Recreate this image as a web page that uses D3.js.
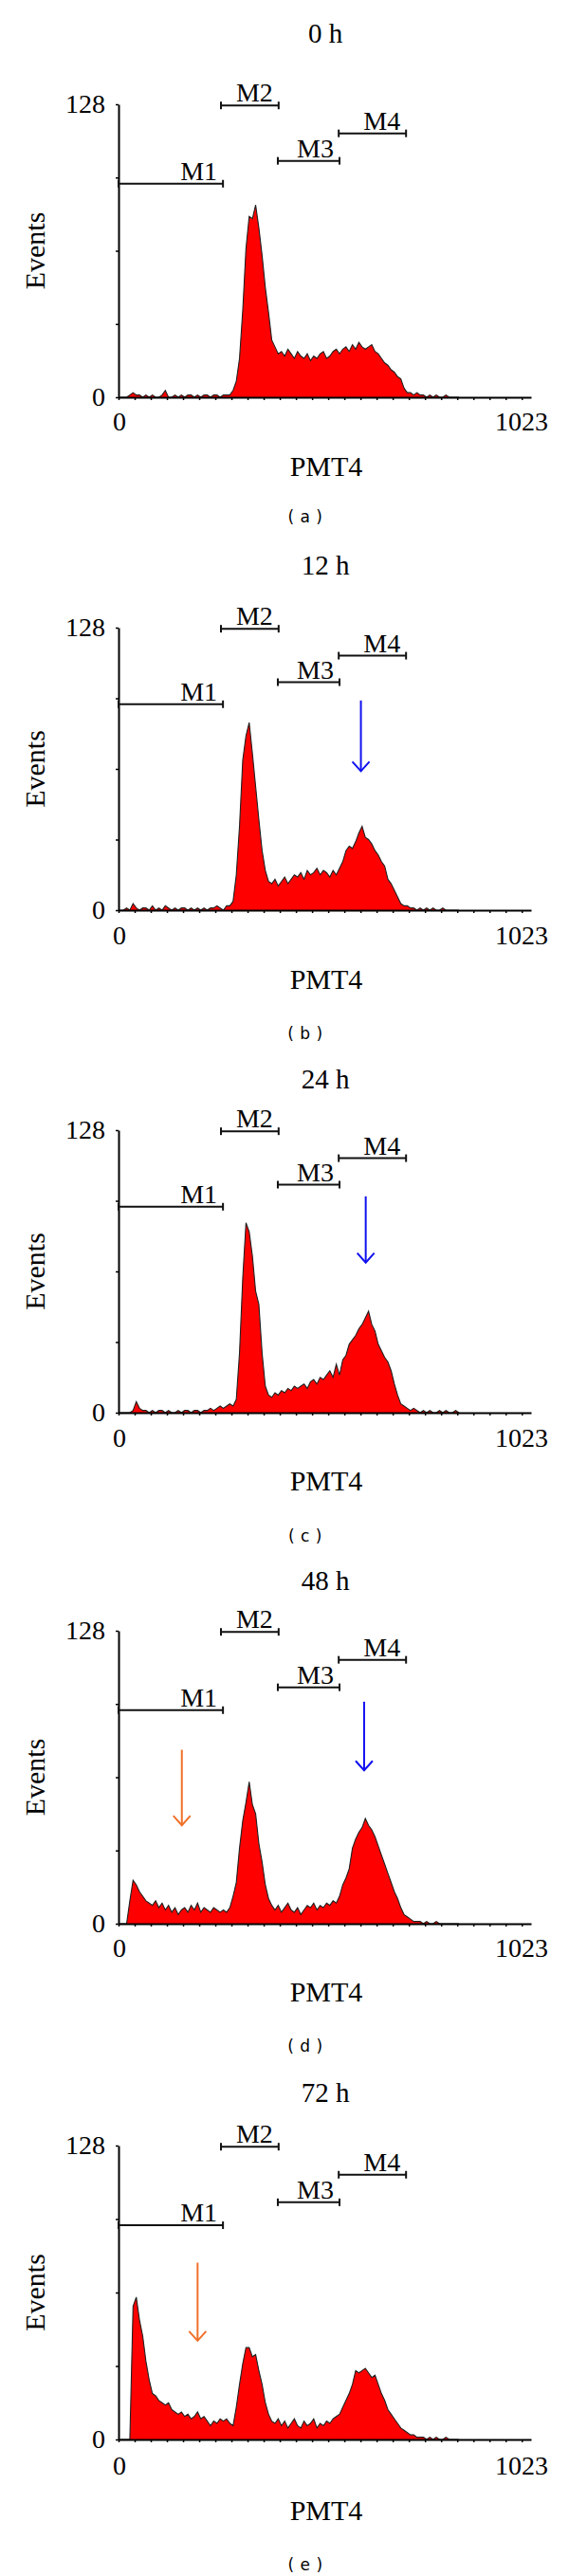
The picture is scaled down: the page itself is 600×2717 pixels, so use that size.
<!DOCTYPE html>
<html><head><meta charset="utf-8">
<script src="https://cdn.jsdelivr.net/npm/d3@7/dist/d3.min.js"></script>
<style>body{margin:0;background:#fff}svg{display:block}</style>
</head><body>
<svg id="chart" width="600" height="2717"></svg>
<script>
// ---------- data ----------
const panelTitles = ["0 h", "12 h", "24 h", "48 h", "72 h"];
const panelLetters = ["a", "b", "c", "d", "e"];
const binWidth = 8; // channels per histogram value
const events0h = [0,0,0,1, 2,1,1, 0,1,0,1,0,0,1, 3, 0, 0,1,0,1,0,1,1,0,1,0,1, 1,0,1,1,0,1,1,1,
  3,7,17,38,65,79,78,84,74,62,48,37,25,
  22,19,20,18,21,19,17,20,18,17,19,16,18,17,19,20,17,18,20,21,
  19,21,22,20,23,21,24,22,21,22,23,20,19,17,15,
  14,12,11,9,8,4,2,2,1,2,1,1,
  0,1,0,1,0,0,1,0,0,0,0];
const events12h = [0,0,1,0, 3, 1,0,1,1,0, 2, 0,1,0,2,1, 0,1,0,1,1,0,1,0,1,0, 1,0,1,1,2,1,0,2,2,
  4,16,38,68,79,85,71,56,41,27,18,13,
  12,14,11,13,15,12,14,
  16,15,17,14,18,16,17,19,16,18,17,15,18,16,19,
  22,27,29,28,31,35,38,33,32,30,27,25,22,20,
  14,12,9,6,3,2,
  2,1,1,0,1,0,1,0,1,0,0,1,0,0,0,0,0];
const events24h = [0,0,0,0,1, 5, 2,1,1,0,1,0,1,1,0,1, 0,0,1,0,1,1,0,1,1,0, 1,1,2,1,2,3,2,3,4,3,
  6,27,61,86,82,71,55,49,27,12,8,
  7,9,8,10,9,11,10,12,11,
  12,13,11,14,15,13,16,15,17,19,16,22,17,
  24,26,31,33,35,38,40,43,46,40,37,31,28,25,23,19,13,8,4,
  3,2,1,2,1,0,1,0,1,0,0,1,0,1,0,0,1,0];
const events48h = [0,0,0, 10, 19,17,14,12,10,
  9,8,10,7,9,6,8,5,7,4,6,7,5,8,6,9,5,7,6,5,7,6,5,6,5,7,
  12,18,33,45,53,62,52,48,35,27,17,11,8,
  6,8,5,7,9,6,5,7,4,6,8,7,9,6,8,7,9,8,10,9,
  12,17,20,24,33,37,40,42,46,43,41,38,34,30,26,22,18,14,11,7,4,3,2,1,
  1,1,0,1,0,0,1,0,0,0,0,0,0,0];
const events72h = [0,0,0,0, 58,62,52,45,34,26,20,
  19,17,16,15,16,13,12,11,12,10,11,9,10,12,9,10,8,6,8,7,9,8,9,7,6,
  14,24,33,40,40,36,37,30,24,16,11,8,
  7,9,6,8,5,7,9,6,5,8,6,7,9,5,7,6,8,7,9,10,
  11,14,17,20,24,30,29,30,31,29,27,28,24,20,17,13,11,9,7,5,4,3,2,2,1,1,1,
  0,1,0,1,0,0,1,0,0,0,0];
const panelSeries = [events0h, events12h, events24h, events48h, events72h];

const markerNames = ["M1", "M2", "M3", "M4"];
const markerStart = [0, 254, 395, 546];
const markerEnd = [259, 397, 548, 713];
const markerLevel = [93.3, 127.5, 103.3, 115.3];

const arrowPanel = [1, 2, 3, 3, 4];
const arrowChannel = [601, 613, 609, 157, 196];
const arrowFrom = [95, 98, 97, 76, 77];
const arrowTo = [63, 68, 67, 43, 43];
const arrowKind = ["G2M", "G2M", "G2M", "subG1", "subG1"];

const xTickValues = [0,40,80,120,160,200,240,280,320,360,400,440,480,520,560,600,640,680,720,760,800,840,880,920,960,1000];
const yTickValues = [0, 32, 64, 96, 128];
const xLabelValues = [0, 1023];
const xLabelTexts = ["0", "1023"];
const yLabelValues = [0, 128];
const yLabelTexts = ["0", "128"];
const xAxisTitle = "PMT4";
const yAxisTitle = "Events";

// ---------- layout ----------
const layout = [
  {top:110,  bottom:419,  title:45,   tick:454,  axis:502,  sub:551},
  {top:662,  bottom:960,  title:606,  tick:996,  axis:1043, sub:1096},
  {top:1192, bottom:1490, title:1148, tick:1526, axis:1572, sub:1626},
  {top:1720, bottom:2029, title:1677, tick:2064, axis:2111, sub:2164},
  {top:2263, bottom:2573, title:2217, tick:2610, axis:2658, sub:2711}
];
const serif = "'Liberation Serif','Times New Roman',serif";
const sans = "'DejaVu Sans',Verdana,sans-serif";
const arrowColor = {G2M: "#1010f0", subG1: "#f07028"};

const svg = d3.select("#chart");
const x = d3.scaleLinear().domain([0, 1023]).range([125, 560]);

panelSeries.forEach((vals, p) => {
  const L = layout[p];
  const y = d3.scaleLinear().domain([0, 128]).range([L.bottom, L.top]);
  const g = svg.append("g");

  g.append("text").attr("x", 343).attr("y", L.title).attr("text-anchor", "middle")
    .attr("font-family", serif).attr("font-size", 29).text(panelTitles[p]);

  const pts = vals.map((v, i) => ({c: i * binWidth + binWidth / 2, v}));
  g.append("path").datum(pts)
    .attr("d", d3.area().x(d => x(d.c)).y0(y(0)).y1(d => y(d.v)))
    .attr("fill", "#ff0000");
  g.append("path").datum(pts)
    .attr("d", d3.line().x(d => x(d.c)).y(d => y(d.v)))
    .attr("fill", "none").attr("stroke", "#202020").attr("stroke-width", 1.1);

  const xa = g.append("g").attr("transform", `translate(0,${L.bottom})`)
    .call(d3.axisBottom(x).tickValues(xTickValues).tickSize(3).tickSizeOuter(0).tickFormat(""));
  const ya = g.append("g").attr("transform", `translate(${x(0)},0)`)
    .call(d3.axisLeft(y).tickValues(yTickValues).tickSize(3).tickSizeOuter(0).tickFormat(""));
  [xa, ya].forEach(a => {
    a.select(".domain").attr("stroke", "#000").attr("stroke-width", 2);
    a.selectAll(".tick line").attr("stroke", "#000").attr("stroke-width", 1.5);
  });

  yLabelValues.forEach((v, i) => {
    g.append("text").attr("x", x(0) - 14).attr("y", y(v) + 9).attr("text-anchor", "end")
      .attr("font-family", serif).attr("font-size", 28).text(yLabelTexts[i]);
  });
  xLabelValues.forEach((v, i) => {
    const last = i === xLabelValues.length - 1;
    g.append("text").attr("x", last ? x(v) + 18 : x(v) + 1).attr("y", L.tick)
      .attr("text-anchor", last ? "end" : "middle")
      .attr("font-family", serif).attr("font-size", 28).text(xLabelTexts[i]);
  });

  g.append("text").attr("x", 344).attr("y", L.axis).attr("text-anchor", "middle")
    .attr("font-family", serif).attr("font-size", 30).text(xAxisTitle);
  g.append("text").attr("transform", `translate(47,${(L.top + L.bottom) / 2}) rotate(-90)`)
    .attr("text-anchor", "middle").attr("font-family", serif).attr("font-size", 30).text(yAxisTitle);

  markerNames.forEach((m, i) => {
    const yy = y(markerLevel[i]), x1 = x(markerStart[i]), x2 = x(markerEnd[i]);
    g.append("line").attr("x1", x1).attr("x2", x2).attr("y1", yy).attr("y2", yy)
      .attr("stroke", "#111").attr("stroke-width", 2);
    [x1, x2].forEach(xx => g.append("line").attr("x1", xx).attr("x2", xx)
      .attr("y1", yy - 4).attr("y2", yy + 4).attr("stroke", "#111").attr("stroke-width", 2));
    g.append("text").attr("x", x2 - 6).attr("y", yy - 4).attr("text-anchor", "end")
      .attr("font-family", serif).attr("font-size", 28).text(m);
  });

  arrowPanel.forEach((ap, i) => {
    if (ap !== p) return;
    const ax = x(arrowChannel[i]), y1 = y(arrowFrom[i]), y2 = y(arrowTo[i]);
    const col = arrowColor[arrowKind[i]];
    g.append("line").attr("x1", ax).attr("x2", ax).attr("y1", y1).attr("y2", y2)
      .attr("stroke", col).attr("stroke-width", 2);
    g.append("path").attr("d", `M${ax - 9},${y2 - 10}L${ax},${y2}L${ax + 9},${y2 - 10}`)
      .attr("fill", "none").attr("stroke", col).attr("stroke-width", 2);
  });

  g.append("text").attr("x", 322).attr("y", L.sub).attr("text-anchor", "middle")
    .attr("font-family", sans).attr("font-size", 17).attr("letter-spacing", 0.5)
    .attr("xml:space", "preserve")
    .text(`( ${panelLetters[p]} )`);
});
</script>
</body></html>
